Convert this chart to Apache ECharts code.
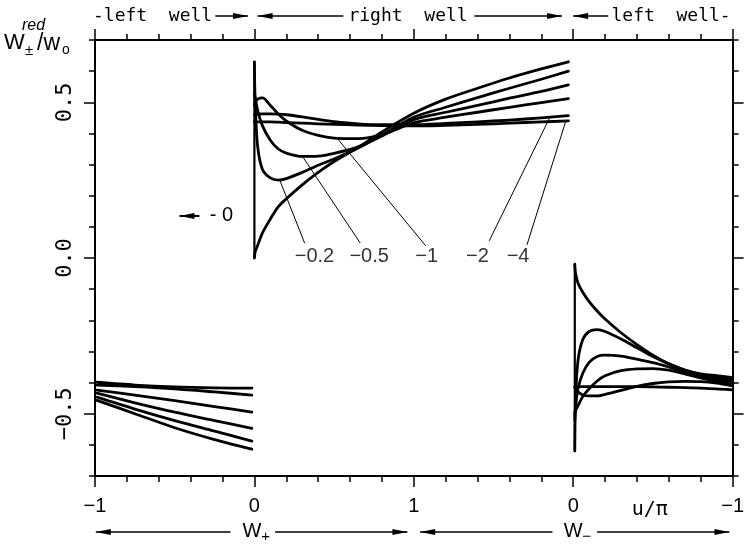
<!DOCTYPE html>
<html>
<head>
<meta charset="utf-8">
<script src="https://cdn.jsdelivr.net/npm/echarts@6/dist/echarts.min.js"></script>
<style>
  html, body { margin: 0; padding: 0; background: #fff; }
  #chart { width: 747px; height: 550px; }
</style>
</head>
<body>
<div id="chart"></div>
<script>
// Horizontal scale: 0..1 left well (W+), 1..3 right well, 3..4 left well (W-)
const xTickLabels = ['\u22121', '0', '1', '0', '\u22121'];
const yMajorTicks = [-0.5, 0, 0.5];
const yMinorTicks = [-0.7, -0.6, -0.4, -0.3, -0.2, -0.1, 0.1, 0.2, 0.3, 0.4, 0.6, 0.7];
const curveParams = ['0', '\u22120.2', '\u22120.5', '\u22121', '\u22122', '\u22124'];

// left well, W+
const leftX = [0.012, 0.25, 0.5, 0.75, 0.984];
const left0   = [-0.457, -0.500, -0.545, -0.583, -0.614];
const leftM02 = [-0.447, -0.485, -0.522, -0.556, -0.588];
const leftM05 = [-0.434, -0.465, -0.495, -0.522, -0.547];
const leftM1  = [-0.424, -0.440, -0.458, -0.477, -0.495];
const leftM2  = [-0.408, -0.413, -0.420, -0.430, -0.440];
const leftM4  = [-0.399, -0.408, -0.414, -0.417, -0.418];

// right well
const rightX = [1.0, 1.005, 1.02, 1.05, 1.1, 1.15, 1.2, 1.3, 1.4, 1.5, 1.65, 1.8, 2.0, 2.2, 2.4, 2.6, 2.8, 2.97];
const right0   = [0.000, 0.020, 0.040, 0.080, 0.125, 0.165, 0.190, 0.235, 0.275, 0.310, 0.355, 0.405, 0.465, 0.510, 0.545, 0.578, 0.607, 0.630];
const rightM02 = [0.630, 0.500, 0.360, 0.285, 0.257, 0.250, 0.255, 0.275, 0.298, 0.318, 0.353, 0.395, 0.452, 0.484, 0.515, 0.545, 0.574, 0.600];
const rightM05 = [0.530, 0.515, 0.475, 0.425, 0.378, 0.350, 0.337, 0.326, 0.327, 0.336, 0.357, 0.392, 0.444, 0.468, 0.490, 0.513, 0.535, 0.556];
const rightM1  = [0.490, 0.500, 0.510, 0.514, 0.490, 0.462, 0.440, 0.410, 0.394, 0.385, 0.383, 0.396, 0.434, 0.452, 0.468, 0.484, 0.499, 0.512];
const rightM2  = [0.460, 0.461, 0.462, 0.463, 0.463, 0.462, 0.460, 0.453, 0.445, 0.438, 0.431, 0.428, 0.428, 0.432, 0.437, 0.443, 0.450, 0.457];
const rightM4  = [0.437, 0.437, 0.437, 0.437, 0.437, 0.436, 0.435, 0.433, 0.431, 0.429, 0.427, 0.425, 0.424, 0.426, 0.429, 0.433, 0.437, 0.440];

// left well, W-
const wmX = [3.01, 3.015, 3.03, 3.06, 3.1, 3.15, 3.2, 3.3, 3.4, 3.5, 3.6, 3.7, 3.8, 3.9, 3.99];
const wm0   = [-0.020, -0.050, -0.080, -0.110, -0.140, -0.170, -0.196, -0.240, -0.278, -0.312, -0.340, -0.360, -0.372, -0.378, -0.383];
const wmM02 = [-0.620, -0.450, -0.330, -0.262, -0.236, -0.230, -0.236, -0.260, -0.288, -0.316, -0.340, -0.360, -0.375, -0.385, -0.390];
const wmM05 = [-0.520, -0.480, -0.420, -0.370, -0.335, -0.316, -0.312, -0.315, -0.325, -0.336, -0.350, -0.366, -0.380, -0.390, -0.397];
const wmM1  = [-0.500, -0.490, -0.475, -0.445, -0.420, -0.395, -0.378, -0.362, -0.356, -0.355, -0.360, -0.372, -0.385, -0.396, -0.405];
const wmM2  = [-0.415, -0.420, -0.430, -0.440, -0.443, -0.443, -0.438, -0.425, -0.412, -0.403, -0.398, -0.396, -0.397, -0.402, -0.410];
const wmM4  = [-0.413, -0.413, -0.413, -0.413, -0.413, -0.413, -0.413, -0.413, -0.413, -0.414, -0.415, -0.416, -0.418, -0.420, -0.423];

// curve tags in the right well: text anchor, leader start, leader end on the curve
const tagText  = ['\u22120.2', '\u22120.5', '\u22121', '\u22122', '\u22124'];
const tagAt    = [[1.377, 0.005], [1.720, 0.005], [2.081, 0.005], [2.399, 0.005], [2.654, 0.005]];
const tagFrom  = [[1.315, 0.048], [1.664, 0.048], [2.075, 0.039], [2.473, 0.055], [2.710, 0.042]];
const tagTo    = [[1.159, 0.250], [1.302, 0.326], [1.520, 0.384], [2.854, 0.452], [2.953, 0.439]];

const black = '#000';
const chart = echarts.init(document.getElementById('chart'), null, { renderer: 'canvas' });

function curve(xs, ys) {
  return {
    type: 'line', data: xs.map((x, i) => [x, ys[i]]),
    smooth: 0.3, symbol: 'none', silent: true, z: 3,
    lineStyle: { color: black, width: 2.8, cap: 'round', join: 'round' }
  };
}
function straight(points, width) {
  return {
    type: 'line', data: points, symbol: 'none', silent: true, z: 2,
    lineStyle: { color: black, width }
  };
}

const series = [];
[left0, leftM02, leftM05, leftM1, leftM2, leftM4].forEach(ys => series.push(curve(leftX, ys)));
[right0, rightM02, rightM05, rightM1, rightM2, rightM4].forEach(ys => series.push(curve(rightX, ys)));
[wm0, wmM02, wmM05, wmM1, wmM2, wmM4].forEach(ys => series.push(curve(wmX, ys)));

// vertical edge at the start of each well, spanning the curves' end values there
series.push(straight([[rightX[0], right0[0]], [rightX[0], rightM02[0]]], 2.2));
series.push(straight([[wmX[0], wm0[0]], [wmX[0], wmM02[0]]], 2.2));

tagFrom.forEach((p, i) => series.push(straight([p, tagTo[i]], 1)));
series.push({
  type: 'scatter', symbolSize: 0, silent: true, z: 4,
  data: tagAt.map((p, i) => ({ value: p, name: tagText[i] })),
  label: {
    show: true, position: 'inside', formatter: '{b}', color: black,
    fontFamily: '"Liberation Sans", Arial, sans-serif', fontSize: 20
  }
});

const axisLine = { show: true, onZero: false, lineStyle: { color: black, width: 2 } };
const tickStyle = { color: black, width: 1.5 };

function xAxisDef(pos, showLabels) {
  return {
    type: 'value', position: pos, min: 0, max: 4, interval: 1,
    axisLine, splitLine: { show: false },
    axisTick: { show: true, length: 11, lineStyle: tickStyle },
    minorTick: { show: true, splitNumber: 5, length: 6, lineStyle: tickStyle },
    axisLabel: {
      show: showLabels, margin: 20, color: black, fontSize: 20,
      fontFamily: '"Liberation Sans", Arial, sans-serif',
      formatter: v => xTickLabels[Math.round(v)]
    }
  };
}
function yAxisDef(pos, major, showLine) {
  return {
    type: 'value', position: pos, min: -0.7, max: 0.7, offset: 0,
    axisLine: showLine ? axisLine : { show: false, onZero: false },
    splitLine: { show: false },
    axisTick: { show: true, length: major ? 11 : 6, lineStyle: tickStyle,
                customValues: major ? yMajorTicks : yMinorTicks },
    axisLabel: {
      show: major && pos === 'left', customValues: yMajorTicks, rotate: 90, margin: 19,
      color: black, fontSize: 22, fontFamily: '"DejaVu Sans Mono", monospace',
      formatter: v => (Math.abs(v) < 1e-9 ? '0.0' : v.toFixed(1).replace('-', '\u2212'))
    }
  };
}

chart.setOption({
  animation: false,
  backgroundColor: '#fff',
  grid: { left: 95, right: 10, top: 40, bottom: 74, containLabel: false },
  xAxis: [xAxisDef('bottom', true), xAxisDef('top', false)],
  yAxis: [yAxisDef('left', false, true), yAxisDef('left', true, false),
          yAxisDef('right', false, true), yAxisDef('right', true, false)],
  series
});

// surrounding annotation: well names, W+/W- ranges, axis names
const px = x => chart.convertToPixel({ xAxisIndex: 0 }, x);
const py = y => chart.convertToPixel({ yAxisIndex: 0 }, y);
const g = [];
function seg(x1, y1, x2, y2, w) {
  g.push({ type: 'line', silent: true, shape: { x1, y1, x2, y2 }, style: { stroke: black, lineWidth: w || 1.5 } });
}
function head(tipX, y, dir) {
  const L = 15, H = 3;
  g.push({ type: 'polygon', silent: true,
    shape: { points: [[tipX, y], [tipX - dir * L, y - H], [tipX - dir * L, y + H]] },
    style: { fill: black } });
}
function txt(str, x, y, font, align) {
  g.push({ type: 'text', silent: true, x, y,
    style: { text: str, fill: black, font, textAlign: align || 'left',
      textVerticalAlign: 'middle', verticalAlign: 'middle' } });
}
const mono18 = '18px "DejaVu Sans Mono", monospace';
const sans20 = '20px "Liberation Sans", Arial, sans-serif';
const sub15 = '15px "Liberation Sans", Arial, sans-serif';

// top row
const topY = 16;
txt('-left  well', px(0) - 2, topY, mono18);
seg(px(0.755), topY, px(0.96), topY); head(px(0.96), topY, 1);
head(px(1.02), topY, -1); seg(px(1.02), topY, px(1.558), topY);
txt('right  well', px(1.59), topY, mono18);
seg(px(2.38), topY, px(2.93), topY); head(px(2.93), topY, 1);
head(px(3.0), topY, -1); seg(px(3.0), topY, px(3.22), topY);
txt('left  well-', px(3.24), topY, mono18);

// bottom row
const botY = 532;
head(px(0.005), botY, -1); seg(px(0.005), botY, px(0.85), botY);
txt('W', px(0.985), botY - 1, sans20, 'center');
txt('+', px(1.07), botY + 5, sub15, 'center');
seg(px(1.13), botY, px(1.96), botY); head(px(1.96), botY, 1);
head(px(2.04), botY, -1); seg(px(2.04), botY, px(2.87), botY);
txt('W', px(3.0), botY - 1, sans20, 'center');
txt('\u2212', px(3.085), botY + 5, sub15, 'center');
seg(px(3.15), botY, px(3.98), botY); head(px(3.98), botY, 1);

// u/pi axis name
txt('u/\u03c0', px(3.48), 510, '20px "DejaVu Sans Mono", monospace', 'center');

// marker for the curve that starts at zero
const zY = py(0.135);
head(px(0.53), zY, -1); seg(px(0.53), zY, px(0.655), zY, 2);
txt('- 0', px(0.72), zY, sans20);

// vertical axis name
txt('W', 4, 43, '22px "Liberation Sans", Arial, sans-serif');
txt('\u00b1', 25, 51, '15px "Liberation Sans", Arial, sans-serif');
txt('/w', 37, 44, '23px "Liberation Sans", Arial, sans-serif');
txt('o', 62, 50, '14px "Liberation Sans", Arial, sans-serif');
txt('red', 22, 26, 'italic 16px "Liberation Sans", Arial, sans-serif');

chart.setOption({ graphic: { elements: g } });
</script>
</body>
</html>
